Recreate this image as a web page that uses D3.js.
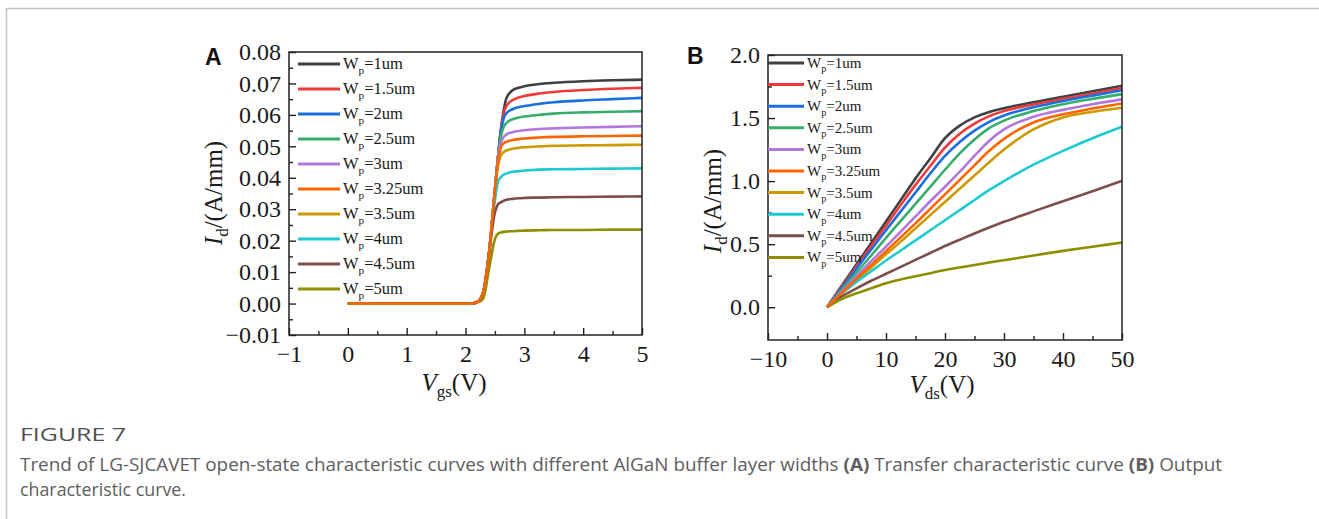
<!DOCTYPE html>
<html><head><meta charset="utf-8">
<script src="https://cdn.jsdelivr.net/npm/d3@7"></script>
<style>body{margin:0;background:#fff}</style>
</head><body>
<svg id="c" width="1319" height="519" xmlns="http://www.w3.org/2000/svg"></svg>
<script>
// ---------- data ----------
const legendLabels = ["1", "1.5", "2", "2.5", "3", "3.25", "3.5", "4", "4.5", "5"];
const seriesColors = ["#404040", "#f03a3a", "#1a6fdf", "#37ad6b", "#b177de", "#fb6501", "#cc9900", "#1ccad0", "#7d4e4e", "#8e8e00"];

// Panel A: transfer characteristic, Vgs (V) vs Id (A/mm)
const vgs = [0, 1, 2, 2.1, 2.2, 2.3, 2.4, 2.5, 2.55, 2.6, 2.65, 2.7, 2.8, 2.9, 3.0, 3.25, 3.5, 4.0, 4.5, 5.0];
const transfer_1   = [0, 0, 0, 0, 0.0005, 0.0035, 0.016, 0.036, 0.046, 0.055, 0.0615, 0.0655, 0.0678, 0.0686, 0.0691, 0.0698, 0.0702, 0.0707, 0.0710, 0.0712];
const transfer_1_5 = [0, 0, 0, 0, 0.0005, 0.0035, 0.016, 0.036, 0.046, 0.055, 0.0605, 0.0630, 0.0647, 0.0655, 0.0660, 0.0668, 0.0673, 0.0679, 0.0683, 0.0686];
const transfer_2   = [0, 0, 0, 0, 0.0005, 0.0035, 0.016, 0.036, 0.046, 0.0545, 0.0590, 0.0606, 0.0618, 0.0624, 0.0628, 0.0635, 0.0640, 0.0646, 0.0650, 0.0654];
const transfer_2_5 = [0, 0, 0, 0, 0.0005, 0.0035, 0.016, 0.036, 0.046, 0.0530, 0.0562, 0.0575, 0.0586, 0.0592, 0.0595, 0.0600, 0.0604, 0.0608, 0.0610, 0.0612];
const transfer_3   = [0, 0, 0, 0, 0.0005, 0.0035, 0.016, 0.036, 0.046, 0.0510, 0.0530, 0.0538, 0.0545, 0.0549, 0.0551, 0.0555, 0.0557, 0.0560, 0.0562, 0.0564];
const transfer_3_25= [0, 0, 0, 0, 0.0005, 0.0035, 0.016, 0.036, 0.045, 0.0495, 0.0510, 0.0515, 0.0520, 0.0523, 0.0525, 0.0528, 0.0530, 0.0532, 0.0533, 0.0534];
const transfer_3_5 = [0, 0, 0, 0, 0.0005, 0.0035, 0.016, 0.036, 0.0435, 0.0470, 0.0482, 0.0487, 0.0492, 0.0495, 0.0497, 0.0500, 0.0502, 0.0503, 0.0504, 0.0505];
const transfer_4   = [0, 0, 0, 0, 0.0005, 0.0035, 0.016, 0.033, 0.0385, 0.0402, 0.0410, 0.0414, 0.0419, 0.0421, 0.0423, 0.0426, 0.0427, 0.0428, 0.0429, 0.0430];
const transfer_4_5 = [0, 0, 0, 0, 0.0005, 0.0035, 0.016, 0.029, 0.0315, 0.0322, 0.0327, 0.0330, 0.0333, 0.0335, 0.0336, 0.0337, 0.0338, 0.0339, 0.0340, 0.0341];
const transfer_5   = [0, 0, 0, 0, 0.0003, 0.0015, 0.011, 0.0205, 0.0222, 0.0226, 0.0228, 0.0229, 0.0230, 0.0231, 0.0232, 0.0233, 0.0234, 0.0234, 0.0235, 0.0235];

// Panel B: output characteristic, Vds (V) vs Id (A/mm)
const vds = [0, 2.5, 5, 7.5, 10, 12.5, 15, 17.5, 20, 22.5, 25, 27.5, 30, 35, 40, 45, 50];
const output_1   = [0, 0.17, 0.34, 0.51, 0.68, 0.85, 1.02, 1.18, 1.34, 1.44, 1.505, 1.548, 1.578, 1.625, 1.669, 1.712, 1.756];
const output_1_5 = [0, 0.162, 0.324, 0.485, 0.647, 0.81, 0.97, 1.12, 1.265, 1.375, 1.455, 1.515, 1.555, 1.607, 1.652, 1.695, 1.738];
const output_2   = [0, 0.153, 0.306, 0.458, 0.61, 0.76, 0.91, 1.06, 1.20, 1.31, 1.40, 1.47, 1.52, 1.585, 1.635, 1.678, 1.72];
const output_2_5 = [0, 0.138, 0.275, 0.41, 0.55, 0.685, 0.82, 0.955, 1.09, 1.22, 1.33, 1.42, 1.48, 1.555, 1.61, 1.652, 1.69];
const output_3   = [0, 0.125, 0.245, 0.365, 0.48, 0.60, 0.72, 0.84, 0.955, 1.075, 1.20, 1.32, 1.41, 1.51, 1.565, 1.61, 1.648];
const output_3_25= [0, 0.115, 0.225, 0.335, 0.445, 0.555, 0.665, 0.78, 0.895, 1.01, 1.125, 1.24, 1.335, 1.465, 1.53, 1.575, 1.616];
const output_3_5 = [0, 0.105, 0.21, 0.315, 0.42, 0.52, 0.625, 0.73, 0.835, 0.94, 1.045, 1.15, 1.25, 1.41, 1.505, 1.55, 1.582];
const output_4   = [0, 0.11, 0.2, 0.285, 0.37, 0.45, 0.53, 0.61, 0.69, 0.77, 0.85, 0.93, 1.0, 1.13, 1.24, 1.34, 1.431];
const output_4_5 = [0, 0.085, 0.15, 0.21, 0.265, 0.32, 0.375, 0.43, 0.485, 0.535, 0.585, 0.632, 0.677, 0.76, 0.84, 0.92, 1.002];
const output_5   = [0, 0.065, 0.11, 0.15, 0.19, 0.22, 0.245, 0.27, 0.295, 0.315, 0.335, 0.355, 0.373, 0.41, 0.447, 0.48, 0.513];

const ticksA_x = [-1, 0, 1, 2, 3, 4, 5];
const ticksA_y = [-0.01, 0, 0.01, 0.02, 0.03, 0.04, 0.05, 0.06, 0.07, 0.08];
const ticksB_x = [-10, 0, 10, 20, 30, 40, 50];
const ticksB_y = [0, 0.5, 1.0, 1.5, 2.0];

const transferSeries = [transfer_1, transfer_1_5, transfer_2, transfer_2_5, transfer_3, transfer_3_25, transfer_3_5, transfer_4, transfer_4_5, transfer_5];
const outputSeries = [output_1, output_1_5, output_2, output_2_5, output_3, output_3_25, output_3_5, output_4, output_4_5, output_5];

// ---------- drawing ----------
const svg = d3.select("#c");
const serif = "'Liberation Serif','Times New Roman',serif";
const drawOrder = [0, 1, 2, 3, 4, 6, 7, 8, 9, 5];

// page frame lines
svg.append("line").attr("x1", 6).attr("x2", 1319).attr("y1", 8.5).attr("y2", 8.5).attr("stroke", "#c4c4c4").attr("stroke-width", 1.5);
svg.append("line").attr("x1", 6.5).attr("x2", 6.5).attr("y1", 8).attr("y2", 519).attr("stroke", "#c4c4c4").attr("stroke-width", 1.5);

function panel(cfg) {
  const g = svg.append("g");
  const x = d3.scaleLinear().domain(cfg.xDom).range(cfg.xRange);
  const y = d3.scaleLinear().domain(cfg.yDom).range(cfg.yRange);
  const [x0, x1] = cfg.xRange, [y0, y1] = cfg.yRange;

  // curves
  const line = d3.line().curve(d3.curveMonotoneX);
  drawOrder.forEach(i => {
    const pts = cfg.xs.map((v, k) => [x(v), y(cfg.series[i][k])]);
    g.append("path").attr("d", line(pts)).attr("fill", "none")
      .attr("stroke", seriesColors[i]).attr("stroke-width", 2.6).attr("stroke-linejoin", "round");
  });

  // axes
  const ax = g.append("g").attr("transform", `translate(0,${y0})`)
    .call(d3.axisBottom(x).tickValues(cfg.xTicks).tickSizeInner(-7).tickSizeOuter(0).tickPadding(10).tickFormat(cfg.xFmt));
  const axm = g.append("g").attr("transform", `translate(0,${y0})`)
    .call(d3.axisBottom(x).tickValues(cfg.xMinor).tickSizeInner(-4).tickSizeOuter(0).tickFormat(""));
  const ay = g.append("g").attr("transform", `translate(${x0},0)`)
    .call(d3.axisLeft(y).tickValues(cfg.yTicks).tickSizeInner(-7).tickSizeOuter(0).tickPadding(8).tickFormat(cfg.yFmt));
  const aym = g.append("g").attr("transform", `translate(${x0},0)`)
    .call(d3.axisLeft(y).tickValues(cfg.yMinor).tickSizeInner(-4).tickSizeOuter(0).tickFormat(""));
  [ax, axm, ay, aym].forEach(a => {
    a.select(".domain").remove();
    a.selectAll("line").attr("stroke", "#222").attr("stroke-width", 1.4);
    a.selectAll("text").attr("font-family", serif).attr("font-size", 24).attr("fill", "#1a1a1a");
  });
  g.append("rect").attr("x", x0).attr("y", y1).attr("width", x1 - x0).attr("height", y0 - y1)
    .attr("fill", "none").attr("stroke", "#222").attr("stroke-width", 1.5);

  // legend
  cfg.legendY.forEach((ly, i) => {
    g.append("line").attr("x1", cfg.legX[0]).attr("x2", cfg.legX[1]).attr("y1", ly).attr("y2", ly)
      .attr("stroke", seriesColors[i]).attr("stroke-width", 3);
    const t = g.append("text").attr("x", cfg.legX[1] + 3).attr("y", ly + cfg.legFs * 0.33)
      .attr("font-family", serif).attr("font-size", cfg.legFs).attr("fill", "#1a1a1a");
    t.append("tspan").text("W");
    t.append("tspan").attr("font-size", cfg.legFs * 0.68).attr("dy", cfg.legFs * 0.3).text("p");
    t.append("tspan").attr("dy", -cfg.legFs * 0.3).text("=" + legendLabels[i] + "um");
  });

  // panel label
  g.append("text").attr("x", cfg.label[1]).attr("y", cfg.label[2]).attr("font-family", "'Liberation Sans',Arial,sans-serif")
    .attr("font-weight", "bold").attr("font-size", 23).attr("fill", "#111").text(cfg.label[0]);

  // y title
  const yt = g.append("text").attr("transform", `translate(${cfg.yTitle[0]},${cfg.yTitle[1]}) rotate(-90)`)
    .attr("text-anchor", "middle").attr("font-family", serif).attr("font-size", 25).attr("fill", "#1a1a1a");
  yt.append("tspan").attr("font-style", "italic").text("I");
  yt.append("tspan").attr("font-size", 17).attr("dy", 6).text("d");
  yt.append("tspan").attr("dy", -6).text("/(A/mm)");

  // x title
  const xt = g.append("text").attr("x", cfg.xTitle[0]).attr("y", cfg.xTitle[1])
    .attr("text-anchor", "middle").attr("font-family", serif).attr("font-size", 25).attr("fill", "#1a1a1a");
  xt.append("tspan").attr("font-style", "italic").text("V");
  xt.append("tspan").attr("font-size", 17).attr("dy", 6).text(cfg.xSub);
  xt.append("tspan").attr("dy", -6).text("(V)");
}

const rowsA = legendLabels.map((d, i) => 64 + i * 25);
const rowsB = legendLabels.map((d, i) => 63 + i * 21.6);

panel({
  xDom: [-1, 5], xRange: [289, 642], yDom: [-0.01, 0.08], yRange: [335, 52],
  xs: vgs, series: transferSeries,
  xTicks: ticksA_x, xMinor: d3.range(-0.5, 5, 1), xFmt: d3.format("d"),
  yTicks: ticksA_y, yMinor: d3.range(-0.005, 0.08, 0.01), yFmt: d3.format(".2f"),
  legendY: rowsA, legX: [298, 340], legFs: 16.5,
  label: ["A", 205, 65], yTitle: [222, 193], xTitle: [454, 391], xSub: "gs"
});
panel({
  xDom: [-10, 50], xRange: [768, 1122], yDom: [-0.26, 2.0], yRange: [340, 55],
  xs: vds, series: outputSeries,
  xTicks: ticksB_x, xMinor: d3.range(-5, 50, 10), xFmt: d3.format("d"),
  yTicks: ticksB_y, yMinor: [0.25, 0.75, 1.25, 1.75], yFmt: d3.format(".1f"),
  legendY: rowsB, legX: [768, 804], legFs: 15,
  label: ["B", 687, 64], yTitle: [721, 201], xTitle: [942, 393], xSub: "ds"
});

// caption
const capFont = "'Open Sans','Noto Sans',sans-serif";
svg.append("text").attr("x", 20).attr("y", 441).attr("font-family", capFont).attr("font-size", 19)
  .attr("font-weight", 500).attr("fill", "#505050").attr("textLength", 106).attr("lengthAdjust", "spacingAndGlyphs").text("FIGURE 7");
const c1 = svg.append("text").attr("x", 20).attr("y", 471).attr("font-family", capFont).attr("font-size", 18)
  .attr("fill", "#5e5e5e").attr("textLength", 1202).attr("lengthAdjust", "spacingAndGlyphs");
c1.append("tspan").text("Trend of LG-SJCAVET open-state characteristic curves with different AlGaN buffer layer widths ");
c1.append("tspan").attr("font-weight", "bold").text("(A)");
c1.append("tspan").text(" Transfer characteristic curve ");
c1.append("tspan").attr("font-weight", "bold").text("(B)");
c1.append("tspan").text(" Output");
svg.append("text").attr("x", 20).attr("y", 496).attr("font-family", capFont).attr("font-size", 18)
  .attr("fill", "#5e5e5e").attr("textLength", 166).attr("lengthAdjust", "spacingAndGlyphs").text("characteristic curve.");
</script>
</body></html>
